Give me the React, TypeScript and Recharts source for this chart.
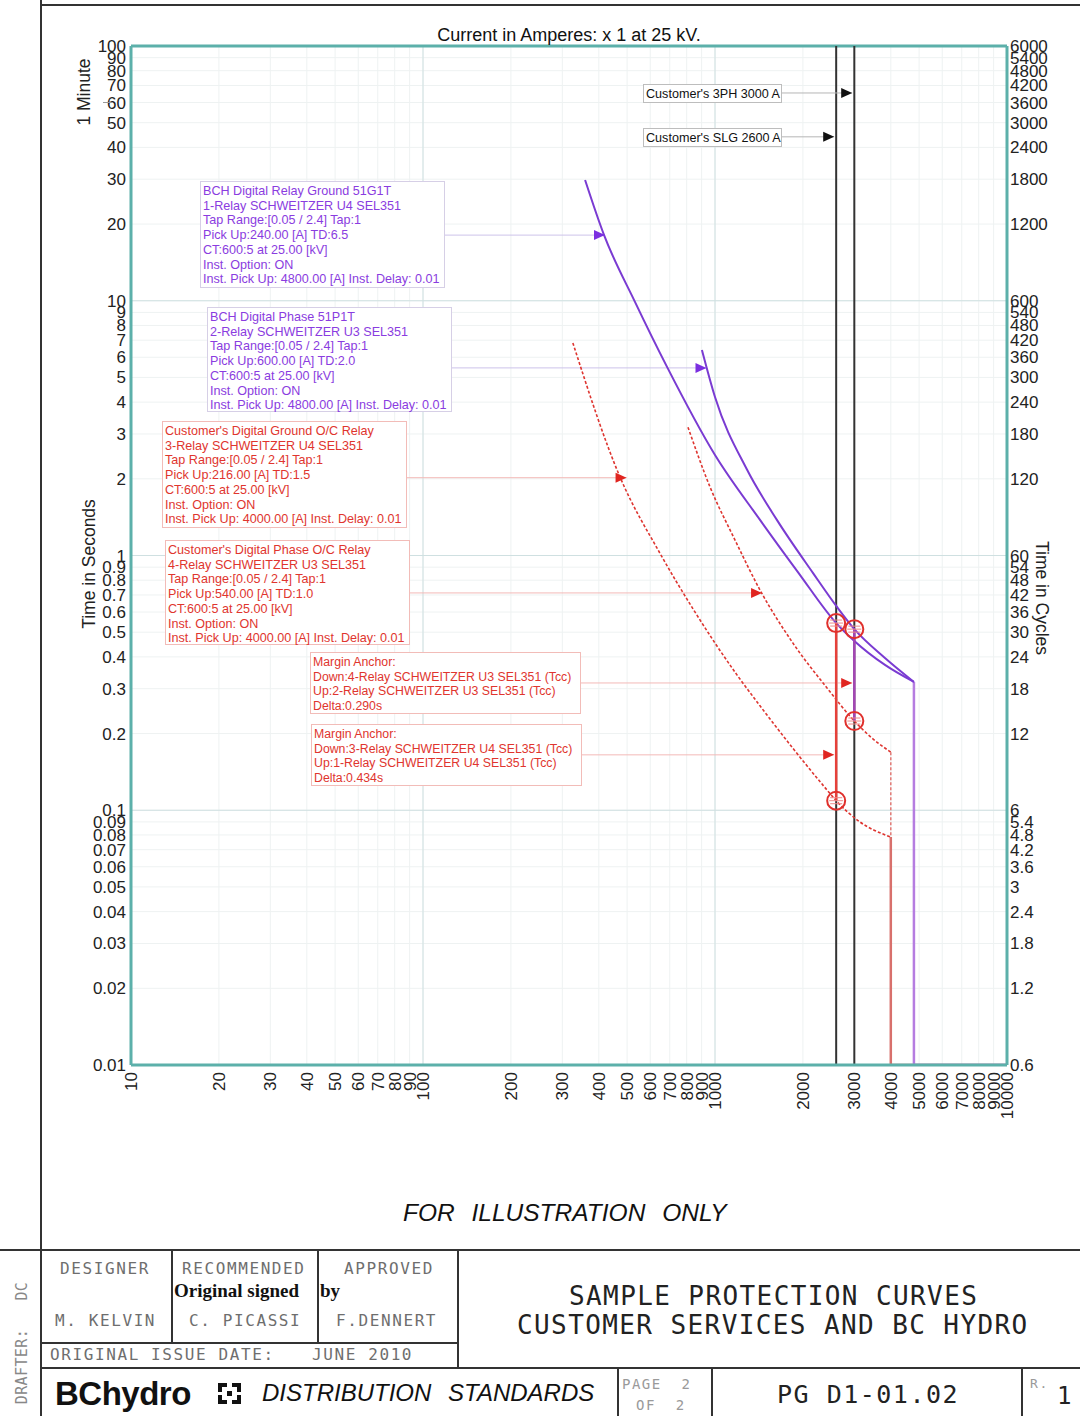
import React from 'react';
import {
  ComposedChart,
  Line,
  Scatter,
  XAxis,
  YAxis,
  CartesianGrid,
  ReferenceLine,
  ReferenceDot,
} from 'recharts';

// axis ticks (log-log TCC sheet)
const ampTicks = [10, 20, 30, 40, 50, 60, 70, 80, 90, 100, 200, 300, 400, 500, 600, 700, 800, 900, 1000, 2000, 3000, 4000, 5000, 6000, 7000, 8000, 9000, 10000];
const secTicks = [0.01, 0.02, 0.03, 0.04, 0.05, 0.06, 0.07, 0.08, 0.09, 0.1, 0.2, 0.3, 0.4, 0.5, 0.6, 0.7, 0.8, 0.9, 1, 2, 3, 4, 5, 6, 7, 8, 9, 10, 20, 30, 40, 50, 60, 70, 80, 90, 100];
const ampDecades = [100, 1000];
const secDecades = [0.1, 1, 10];

// customer fault levels (A)
const faultCurrents = [2600, 3000];

// 1-Relay SCHWEITZER U4 SEL351 (BCH ground 51G1T)
const relay1 = [
  { amps: 359, secs: 29.8 },
  { amps: 417, secs: 18.1 },
  { amps: 532, secs: 9.9 },
  { amps: 685, secs: 5.5 },
  { amps: 1000, secs: 2.48 },
  { amps: 1426, secs: 1.38 },
  { amps: 1923, secs: 0.861 },
  { amps: 2600, secs: 0.543 },
  { amps: 3000, secs: 0.462 },
  { amps: 3820, secs: 0.372 },
  { amps: 4800, secs: 0.319 },
];

// 2-Relay SCHWEITZER U3 SEL351 (BCH phase 51P1T)
const relay2 = [
  { amps: 902, secs: 6.41 },
  { amps: 1000, secs: 4.19 },
  { amps: 1288, secs: 2.17 },
  { amps: 1629, secs: 1.38 },
  { amps: 2167, secs: 0.853 },
  { amps: 2617, secs: 0.628 },
  { amps: 3000, secs: 0.514 },
  { amps: 3820, secs: 0.396 },
  { amps: 4800, secs: 0.319 },
];

// BCH instantaneous element, 4800 A / 0.01 s
const bchInst = [
  { amps: 4800, secs: 0.319 },
  { amps: 4800, secs: 0.01 },
  { amps: 10000, secs: 0.01 },
];

// 3-Relay SCHWEITZER U4 SEL351 (customer ground O/C)
const relay3 = [
  { amps: 326, secs: 6.83 },
  { amps: 473, secs: 2.03 },
  { amps: 648, secs: 1.02 },
  { amps: 841, secs: 0.617 },
  { amps: 1189, secs: 0.34 },
  { amps: 1426, secs: 0.257 },
  { amps: 1849, secs: 0.175 },
  { amps: 2420, secs: 0.12 },
  { amps: 2600, secs: 0.109 },
  { amps: 3139, secs: 0.0899 },
  { amps: 4000, secs: 0.0785 },
];

// 4-Relay SCHWEITZER U3 SEL351 (customer phase O/C)
const relay4 = [
  { amps: 808, secs: 3.19 },
  { amps: 961, secs: 1.86 },
  { amps: 1171, secs: 1.15 },
  { amps: 1426, secs: 0.732 },
  { amps: 1849, secs: 0.453 },
  { amps: 2419, secs: 0.302 },
  { amps: 3000, secs: 0.224 },
  { amps: 3450, secs: 0.192 },
  { amps: 4000, secs: 0.169 },
];

// customer instantaneous element, 4000 A / 0.01 s
const relay4Drop = [
  { amps: 4000, secs: 0.169 },
  { amps: 4000, secs: 0.0785 },
];
const customerInst = [
  { amps: 4000, secs: 0.0785 },
  { amps: 4000, secs: 0.01 },
  { amps: 10000, secs: 0.01 },
];

// coordination margins (Delta 0.434 s ground, 0.290 s phase)
const groundMargin = [
  { amps: 2600, secs: 0.543 },
  { amps: 2600, secs: 0.109 },
];
const phaseMargin = [
  { amps: 3000, secs: 0.514 },
  { amps: 3000, secs: 0.224 },
];
const marginAnchors = [...groundMargin, ...phaseMargin];

// leader lines: from note box edge to the tagged curve
const bchLeaders = [
  { from: 118, to: 420, secs: 18.1 },
  { from: 125, to: 935, secs: 5.45 },
];
const customerLeaders = [
  { from: 88, to: 498, secs: 2.02 },
  { from: 90, to: 1449, secs: 0.713 },
  { from: 345, to: 2950, secs: 0.316 },
  { from: 347, to: 2560, secs: 0.165 },
];
const faultLeaders = [
  { from: 1683, to: 2950, secs: 65.4 },
  { from: 1683, to: 2560, secs: 44 },
];

const note1 = ['BCH Digital Relay Ground 51G1T', '1-Relay SCHWEITZER U4 SEL351', 'Tap Range:[0.05 / 2.4] Tap:1', 'Pick Up:240.00 [A] TD:6.5', 'CT:600:5 at 25.00 [kV]', 'Inst. Option: ON', 'Inst. Pick Up: 4800.00 [A] Inst. Delay: 0.01'];
const note2 = ['BCH Digital Phase 51P1T', '2-Relay SCHWEITZER U3 SEL351', 'Tap Range:[0.05 / 2.4] Tap:1', 'Pick Up:600.00 [A] TD:2.0', 'CT:600:5 at 25.00 [kV]', 'Inst. Option: ON', 'Inst. Pick Up: 4800.00 [A] Inst. Delay: 0.01'];
const note3 = ["Customer's Digital Ground O/C Relay", '3-Relay SCHWEITZER U4 SEL351', 'Tap Range:[0.05 / 2.4] Tap:1', 'Pick Up:216.00 [A] TD:1.5', 'CT:600:5 at 25.00 [kV]', 'Inst. Option: ON', 'Inst. Pick Up: 4000.00 [A] Inst. Delay: 0.01'];
const note4 = ["Customer's Digital Phase O/C Relay", '4-Relay SCHWEITZER U3 SEL351', 'Tap Range:[0.05 / 2.4] Tap:1', 'Pick Up:540.00 [A] TD:1.0', 'CT:600:5 at 25.00 [kV]', 'Inst. Option: ON', 'Inst. Pick Up: 4000.00 [A] Inst. Delay: 0.01'];
const note5 = ['Margin Anchor:', 'Down:4-Relay SCHWEITZER U3 SEL351 (Tcc)', 'Up:2-Relay SCHWEITZER U3 SEL351 (Tcc)', 'Delta:0.290s'];
const note6 = ['Margin Anchor:', 'Down:3-Relay SCHWEITZER U4 SEL351 (Tcc)', 'Up:1-Relay SCHWEITZER U4 SEL351 (Tcc)', 'Delta:0.434s'];

const teal = '#5cb0aa';
const purple = '#7a3bd2';
const red = '#de3530';
const cad = '"DejaVu Sans Mono", monospace';

const AmpTick = ({ x, y, payload }: any) => (
  <text
    x={x}
    y={y}
    transform={`rotate(-90 ${x} ${y})`}
    textAnchor="end"
    dx={-2}
    dy={6}
    fontSize={17}
    fill="#222"
  >
    {payload.value}
  </text>
);

const Arrow = ({ cx, cy, fill }: any) => (
  <path d={`M${cx},${cy} L${cx - 11},${cy - 5} L${cx - 11},${cy + 5} Z`} fill={fill} />
);

const AnchorMark = ({ cx, cy }: any) => (
  <g>
    <circle cx={cx} cy={cy} r={9} fill="none" stroke="#e0302c" strokeWidth={2} />
    <line x1={cx - 6} x2={cx + 6} y1={cy - 3} y2={cy - 3} stroke="#e88" strokeWidth={1} />
    <line x1={cx - 7} x2={cx + 7} y1={cy} y2={cy} stroke="#e88" strokeWidth={1} />
    <line x1={cx - 6} x2={cx + 6} y1={cy + 3} y2={cy + 3} stroke="#e88" strokeWidth={1} />
  </g>
);

const NoteBox = ({ left, top, width, height, color, border, lines, size = 12.6 }: any) => (
  <div
    style={{
      position: 'absolute',
      left,
      top,
      width,
      height,
      boxSizing: 'border-box',
      border: `1px solid ${border}`,
      background: '#fff',
      color,
      fontSize: size,
      lineHeight: '14.7px',
      padding: '2px 2px',
      whiteSpace: 'nowrap',
    }}
  >
    {lines.map((l: string, i: number) => (
      <div key={i}>{l}</div>
    ))}
  </div>
);

const Txt = ({ left, top, size, children, style }: any) => (
  <div style={{ position: 'absolute', left, top, fontSize: size, lineHeight: 1, whiteSpace: 'pre', ...style }}>
    {children}
  </div>
);

const Rot = ({ cx, cy, deg, size, children, style }: any) => (
  <div
    style={{
      position: 'absolute',
      left: cx,
      top: cy,
      fontSize: size,
      lineHeight: 1,
      whiteSpace: 'pre',
      transform: `translate(-50%, -50%) rotate(${deg}deg)`,
      ...style,
    }}
  >
    {children}
  </div>
);

const Rule = ({ left, top, width, height, color = '#333' }: any) => (
  <div style={{ position: 'absolute', left, top, width, height, background: color }} />
);

const TitleBlock = () => {
  const mono = { fontFamily: cad, color: '#6e6e6e', letterSpacing: 1.6 };
  return (
    <>
      <Rule left={40} top={0} width={2} height={1416} />
      <Rule left={40} top={4} width={1040} height={2} />
      <Rule left={0} top={1249} width={1080} height={2} />
      <Rule left={41} top={1342} width={417} height={2} />
      <Rule left={41} top={1367} width={1039} height={2} />
      <Rule left={171} top={1250} width={2} height={93} />
      <Rule left={317} top={1250} width={2} height={93} />
      <Rule left={457} top={1250} width={2} height={118} />
      <Rule left={617} top={1368} width={2} height={48} />
      <Rule left={711} top={1368} width={2} height={48} />
      <Rule left={1021} top={1368} width={2} height={48} />

      <Rot cx={22} cy={1343} deg={-90} size={15} style={{ ...mono, letterSpacing: 0.4, color: '#888' }}>
        {'DRAFTER:   DC'}
      </Rot>

      <Txt left={60} top={1261} size={16} style={mono}>DESIGNER</Txt>
      <Txt left={182} top={1261} size={16} style={mono}>RECOMMENDED</Txt>
      <Txt left={344} top={1261} size={16} style={mono}>APPROVED</Txt>
      <Txt left={174} top={1281} size={19} style={{ fontFamily: '"Liberation Serif", serif', fontWeight: 'bold', color: '#111' }}>
        Original signed
      </Txt>
      <Txt left={320} top={1281} size={19} style={{ fontFamily: '"Liberation Serif", serif', fontWeight: 'bold', color: '#111' }}>
        by
      </Txt>
      <Txt left={55} top={1313} size={16} style={mono}>M. KELVIN</Txt>
      <Txt left={189} top={1313} size={16} style={mono}>C. PICASSI</Txt>
      <Txt left={336} top={1313} size={16} style={mono}>F.DENNERT</Txt>
      <Txt left={50} top={1347} size={16} style={mono}>ORIGINAL ISSUE DATE:</Txt>
      <Txt left={312} top={1347} size={16} style={mono}>JUNE 2010</Txt>

      <Txt left={569} top={1283} size={26} style={{ ...mono, color: '#222', letterSpacing: 1.4 }}>
        SAMPLE PROTECTION CURVES
      </Txt>
      <Txt left={517} top={1312} size={26} style={{ ...mono, color: '#222', letterSpacing: 1.4 }}>
        CUSTOMER SERVICES AND BC HYDRO
      </Txt>

      <Txt left={55} top={1377} size={33} style={{ fontWeight: 'bold', color: '#111', letterSpacing: -0.5 }}>
        BChydro
      </Txt>
      <svg style={{ position: 'absolute', left: 218, top: 1383 }} width={23} height={21}>
        <path d="M0,0 h9 v4 h-5 v5 h-4 Z" fill="#111" />
        <path d="M23,0 h-9 v4 h5 v5 h4 Z" fill="#111" />
        <path d="M0,21 h9 v-4 h-5 v-5 h-4 Z" fill="#111" />
        <path d="M23,21 h-9 v-4 h5 v-5 h4 Z" fill="#111" />
        <rect x={9} y={8} width={5} height={5} fill="#111" />
      </svg>
      <Txt left={262} top={1381} size={24} style={{ fontStyle: 'italic', color: '#111', wordSpacing: 10 }}>
        DISTRIBUTION STANDARDS
      </Txt>

      <Txt left={622} top={1377} size={14} style={{ ...mono, color: '#9a9a9a', letterSpacing: 1.5 }}>{'PAGE  2'}</Txt>
      <Txt left={636} top={1398} size={14} style={{ ...mono, color: '#9a9a9a', letterSpacing: 1.5 }}>{'OF  2'}</Txt>
      <Txt left={777} top={1382} size={25} style={{ ...mono, color: '#222', letterSpacing: 1.5 }}>PG D1-01.02</Txt>
      <Txt left={1030} top={1377} size={13} style={{ ...mono, color: '#9a9a9a' }}>R.</Txt>
      <Txt left={1057} top={1384} size={24} style={{ ...mono, color: '#222' }}>1</Txt>
    </>
  );
};

export default function App() {
  return (
    <div
      style={{
        position: 'absolute',
        left: 0,
        top: 0,
        width: 1080,
        height: 1416,
        background: '#fff',
        overflow: 'hidden',
        fontFamily: '"Liberation Sans", Arial, sans-serif',
      }}
    >
      <div style={{ position: 'absolute', left: 0, top: 0 }}>
        <ComposedChart width={1080} height={1130} margin={{ top: 46, right: 13, bottom: 10, left: 81 }}>
          <CartesianGrid stroke="#eef2f2" />
          <XAxis
            dataKey="amps"
            type="number"
            scale="log"
            domain={[10, 10000]}
            ticks={ampTicks}
            interval={0}
            allowDataOverflow
            height={55}
            tick={(p: any) => <AmpTick {...p} />}
            tickLine={false}
            tickSize={3}
            axisLine={{ stroke: teal, strokeWidth: 3 }}
          />
          <YAxis
            dataKey="secs"
            type="number"
            scale="log"
            domain={[0.01, 100]}
            ticks={secTicks}
            interval={0}
            allowDataOverflow
            width={50}
            tickLine={false}
            tickSize={3}
            tick={{ fontSize: 17, fill: '#222' }}
            tickFormatter={(v: number) => String(v)}
            axisLine={{ stroke: teal, strokeWidth: 3 }}
          />
          <YAxis
            yAxisId="right"
            orientation="right"
            dataKey="secs"
            type="number"
            scale="log"
            domain={[0.01, 100]}
            ticks={secTicks}
            interval={0}
            allowDataOverflow
            width={60}
            tickLine={false}
            tickSize={1}
            tick={{ fontSize: 17, fill: '#222' }}
            tickFormatter={(v: number) => String(Math.round(v * 600) / 10)}
            axisLine={{ stroke: teal, strokeWidth: 3 }}
          />

          {ampDecades.map((a) => (
            <ReferenceLine key={`a${a}`} x={a} stroke="#cfe0e1" strokeWidth={1} />
          ))}
          {secDecades.map((s) => (
            <ReferenceLine key={`s${s}`} y={s} stroke="#cfe0e1" strokeWidth={1} />
          ))}
          <ReferenceLine y={100} stroke={teal} strokeWidth={3} />

          {faultCurrents.map((a) => (
            <ReferenceLine key={`f${a}`} x={a} stroke="#333" strokeWidth={2} />
          ))}

          {bchLeaders.map((l, i) => (
            <ReferenceLine key={`bl${i}`} segment={[{ x: l.from, y: l.secs }, { x: l.to, y: l.secs }]} stroke="#cdc3ea" strokeWidth={1} />
          ))}
          {customerLeaders.map((l, i) => (
            <ReferenceLine key={`cl${i}`} segment={[{ x: l.from, y: l.secs }, { x: l.to, y: l.secs }]} stroke="#f3b9b7" strokeWidth={1} />
          ))}
          {faultLeaders.map((l, i) => (
            <ReferenceLine key={`fl${i}`} segment={[{ x: l.from, y: l.secs }, { x: l.to, y: l.secs }]} stroke="#b5b5b5" strokeWidth={1} />
          ))}

          <Line data={customerInst} dataKey="secs" type="linear" stroke="#d8706c" strokeWidth={2.5} dot={false} activeDot={false} isAnimationActive={false} />
          <Line data={bchInst} dataKey="secs" type="linear" stroke="#b57de0" strokeWidth={2.5} dot={false} activeDot={false} isAnimationActive={false} />
          <Line data={relay3} dataKey="secs" type="monotone" stroke={red} strokeWidth={1.6} strokeDasharray="3 2" dot={false} activeDot={false} isAnimationActive={false} />
          <Line data={relay4} dataKey="secs" type="monotone" stroke={red} strokeWidth={1.6} strokeDasharray="3 2" dot={false} activeDot={false} isAnimationActive={false} />
          <Line data={relay4Drop} dataKey="secs" type="linear" stroke="#e0706c" strokeWidth={1.4} strokeDasharray="3 2" dot={false} activeDot={false} isAnimationActive={false} />
          <Line data={relay1} dataKey="secs" type="monotone" stroke={purple} strokeWidth={2} dot={false} activeDot={false} isAnimationActive={false} />
          <Line data={relay2} dataKey="secs" type="monotone" stroke={purple} strokeWidth={2} dot={false} activeDot={false} isAnimationActive={false} />
          <Line data={groundMargin} dataKey="secs" type="linear" stroke="#e6403a" strokeWidth={2.5} dot={false} activeDot={false} isAnimationActive={false} />
          <Line data={phaseMargin} dataKey="secs" type="linear" stroke="#a446b4" strokeWidth={2.5} dot={false} activeDot={false} isAnimationActive={false} />
          <Scatter data={marginAnchors} shape={(p: any) => <AnchorMark {...p} />} isAnimationActive={false} />

          {bchLeaders.map((l, i) => (
            <ReferenceDot key={`ba${i}`} x={l.to} y={l.secs} shape={(p: any) => <Arrow {...p} fill="#7b2fe0" />} />
          ))}
          {customerLeaders.map((l, i) => (
            <ReferenceDot key={`ca${i}`} x={l.to} y={l.secs} shape={(p: any) => <Arrow {...p} fill="#e02520" />} />
          ))}
          {faultLeaders.map((l, i) => (
            <ReferenceDot key={`fa${i}`} x={l.to} y={l.secs} shape={(p: any) => <Arrow {...p} fill="#111" />} />
          ))}
        </ComposedChart>
      </div>

      <Txt left={0} top={26} size={18} style={{ width: 1138, textAlign: 'center', color: '#111' }}>
        Current in Amperes: x 1 at 25 kV.
      </Txt>
      <Rot cx={85} cy={92} deg={-90} size={17.5} style={{ color: '#222' }}>1 Minute</Rot>
      <Rule left={103} top={102} width={10} height={1} color="#999" />
      <Rot cx={90} cy={564} deg={-90} size={17.5} style={{ color: '#222' }}>Time in Seconds</Rot>
      <Rot cx={1041} cy={598} deg={90} size={17.5} style={{ color: '#222' }}>Time in Cycles</Rot>

      <NoteBox left={643} top={84} width={139} height={19} color="#111" border="#bdbdbd" lines={["Customer's 3PH 3000 A"]} />
      <NoteBox left={643} top={128} width={139} height={19} color="#111" border="#bdbdbd" lines={["Customer's SLG 2600 A"]} />
      <NoteBox left={200} top={181} width={245} height={107} color="#8a3ce0" border="#d6cfe6" lines={note1} />
      <NoteBox left={207} top={307} width={245} height={105} color="#8a3ce0" border="#d6cfe6" lines={note2} />
      <NoteBox left={162} top={421} width={245} height={107} color="#e0352e" border="#f2bcb8" lines={note3} />
      <NoteBox left={165} top={540} width={245} height={105} color="#e0352e" border="#f2bcb8" lines={note4} />
      <NoteBox left={310} top={652} width={271} height={62} color="#e0352e" border="#f2bcb8" lines={note5} size={12.3} />
      <NoteBox left={311} top={724} width={271} height={62} color="#e0352e" border="#f2bcb8" lines={note6} size={12.3} />

      <Txt left={403} top={1201} size={24.5} style={{ fontStyle: 'italic', color: '#111', wordSpacing: 10 }}>
        FOR ILLUSTRATION ONLY
      </Txt>

      <TitleBlock />
    </div>
  );
}
